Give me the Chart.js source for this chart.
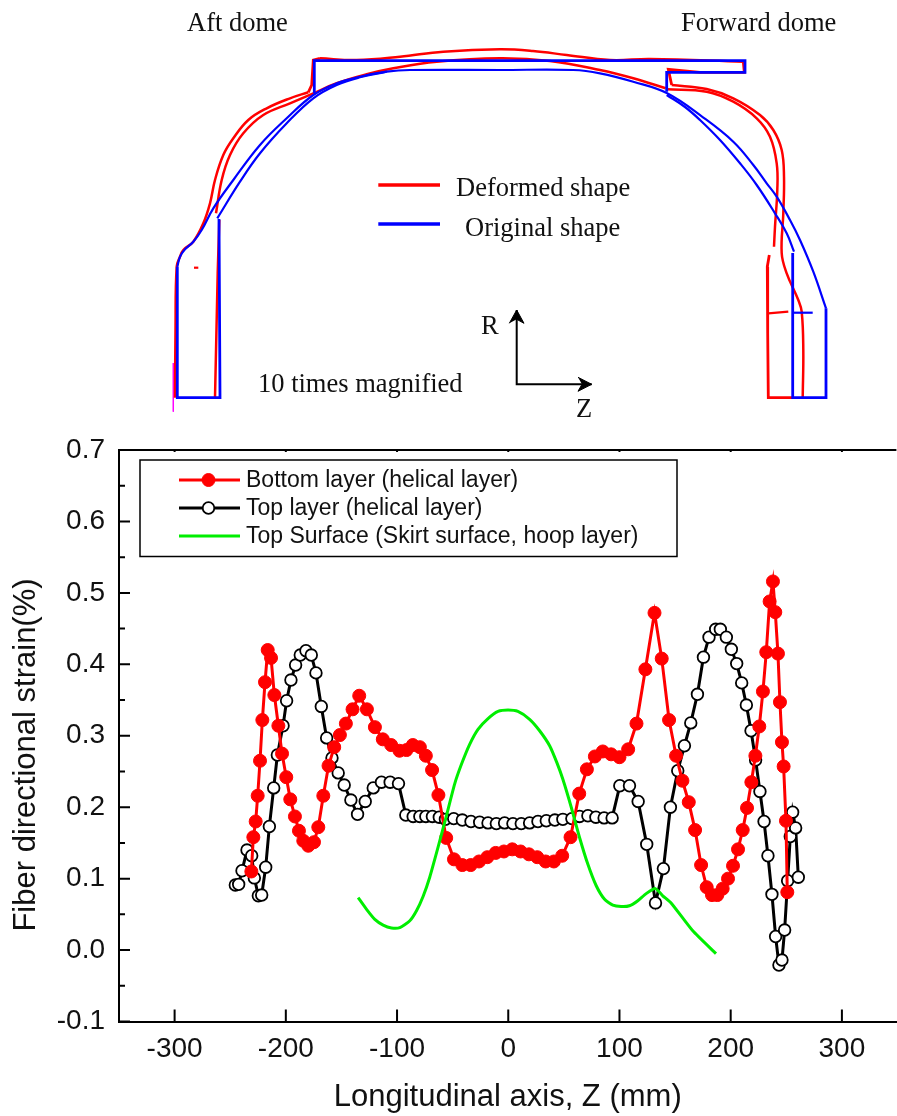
<!DOCTYPE html>
<html>
<head>
<meta charset="utf-8">
<style>
  html, body { margin: 0; padding: 0; background: #fff; overflow: hidden; }
  #page { position: relative; width: 897px; height: 1116px; overflow: hidden; }
  canvas { position: absolute; left: 0; }
  #shape { top: 0; }
  #strain { top: 430px; }
</style>
<script src="https://cdn.jsdelivr.net/npm/chart.js@4"></script>
</head>
<body>
<div id="page">
  <canvas id="shape" width="897" height="430"></canvas>
  <canvas id="strain" width="904" height="686"></canvas>
</div>
<script>
// strain chart data
const bottomZ = [-231, -229.2, -227.1, -225.3, -223.2, -221.1, -218.7, -216.3, -213.3, -210.3, -206.7, -203.4, -199.6, -196, -191.8, -188.2, -184.3, -179.8, -174.7, -170.8, -166.3, -161.6, -156.5, -151.4, -146, -140, -134, -127.1, -119.9, -112.8, -105.3, -97.8, -91.5, -85.8, -79.5, -74.1, -68.5, -62.8, -55.8, -48.8, -41.3, -33.8, -26.3, -18.8, -11.3, -3.9, 3.6, 11.1, 18.6, 26.1, 33.6, 41, 48.5, 56, 63.8, 70.7, 77.9, 85, 92.5, 100, 107.8, 115.3, 123.3, 131.5, 138, 144.6, 150.9, 156.6, 162.3, 168, 173.4, 178.4, 183.2, 188, 192.8, 197.6, 202.1, 206.6, 210.8, 214.7, 218.6, 222.2, 225.7, 229, 232, 235, 238, 240.1, 242.5, 244.3, 246.1, 247.6, 249.7, 250.9];
const bottomStrain = [0.11, 0.158, 0.18, 0.216, 0.265, 0.322, 0.375, 0.42, 0.409, 0.357, 0.314, 0.275, 0.242, 0.211, 0.187, 0.167, 0.153, 0.146, 0.151, 0.172, 0.216, 0.258, 0.284, 0.301, 0.317, 0.337, 0.356, 0.337, 0.312, 0.295, 0.287, 0.279, 0.28, 0.287, 0.284, 0.272, 0.252, 0.217, 0.157, 0.127, 0.119, 0.119, 0.124, 0.13, 0.136, 0.138, 0.141, 0.138, 0.134, 0.13, 0.124, 0.124, 0.132, 0.158, 0.219, 0.253, 0.271, 0.278, 0.274, 0.27, 0.281, 0.317, 0.393, 0.472, 0.408, 0.322, 0.272, 0.237, 0.207, 0.168, 0.119, 0.088, 0.077, 0.077, 0.086, 0.1, 0.118, 0.141, 0.168, 0.199, 0.235, 0.272, 0.313, 0.362, 0.417, 0.488, 0.516, 0.473, 0.415, 0.347, 0.291, 0.257, 0.181, 0.081];

const topZ = [-245.4, -242.4, -239.4, -234.9, -230.7, -228.3, -224.7, -221.7, -218.1, -214.8, -210.9, -207.6, -202.5, -199.3, -195.4, -191.2, -187, -181.9, -177.1, -172.9, -168.1, -163.3, -158.5, -152.9, -147.5, -141.5, -135.5, -128.6, -121.4, -114, -106.2, -98.7, -92.1, -85.5, -79.5, -74.1, -68.2, -62, -56.5, -49.05, -41.3, -33.5, -25.7, -18.2, -10.7, -3.3, 4.2, 11.7, 19.2, 26.7, 34.2, 41.9, 49.1, 57.2, 64.1, 71.6, 78.8, 86.2, 93.4, 100.3, 109, 116.8, 124.5, 132.4, 139.5, 145.8, 152.4, 158.4, 164.1, 170.1, 175.5, 180.5, 186.5, 190.7, 196.1, 200.6, 205.4, 209.9, 214.1, 218.3, 222.4, 226.3, 230, 233.5, 237.1, 240.4, 243.4, 246.1, 248.5, 251.2, 253.6, 255.7, 258.4, 260.8];
const topStrain = [0.091, 0.092, 0.111, 0.14, 0.132, 0.101, 0.076, 0.077, 0.116, 0.173, 0.227, 0.273, 0.314, 0.349, 0.378, 0.399, 0.413, 0.419, 0.413, 0.388, 0.341, 0.297, 0.269, 0.248, 0.231, 0.21, 0.19, 0.208, 0.227, 0.235, 0.235, 0.233, 0.189, 0.187, 0.187, 0.187, 0.187, 0.186, 0.183, 0.184, 0.182, 0.18, 0.179, 0.178, 0.177, 0.178, 0.177, 0.177, 0.178, 0.18, 0.181, 0.182, 0.183, 0.184, 0.187, 0.188, 0.186, 0.185, 0.185, 0.23, 0.23, 0.208, 0.148, 0.066, 0.114, 0.2, 0.251, 0.286, 0.318, 0.358, 0.41, 0.438, 0.449, 0.449, 0.438, 0.421, 0.401, 0.374, 0.343, 0.307, 0.266, 0.222, 0.18, 0.132, 0.078, 0.019, -0.021, -0.014, 0.028, 0.097, 0.159, 0.193, 0.171, 0.102];

const skirtZ = [-135, -127.4, -120, -112.5, -105, -97.5, -88.5, -82.5, -76.6, -70.6, -63.1, -55.6, -48.1, -42.1, -34.7, -27.2, -18.2, -9.2, -0.2, 8.7, 19.2, 28.2, 37.2, 43.8, 49.1, 56.7, 64.1, 71.6, 79.1, 86.6, 94, 101.5, 109, 116.5, 124, 132.3, 138.9, 146.4, 165.9, 186.8];
const skirtStrain = [0.0735, 0.057, 0.043, 0.035, 0.031, 0.0315, 0.041, 0.055, 0.075, 0.102, 0.144, 0.188, 0.233, 0.26, 0.288, 0.309, 0.324, 0.334, 0.336, 0.334, 0.323, 0.307, 0.286, 0.262, 0.239, 0.1996, 0.1576, 0.12, 0.09, 0.071, 0.063, 0.061, 0.062, 0.069, 0.079, 0.086, 0.076, 0.066, 0.027, -0.005];

const xTicks = [-300, -200, -100, 0, 100, 200, 300];
const yTicks = [-0.1, 0, 0.1, 0.2, 0.3, 0.4, 0.5, 0.6, 0.7];
const yMinorTicks = [-0.05, 0.05, 0.15, 0.25, 0.35, 0.45, 0.55, 0.65];
const legendLabels = ['Bottom layer (helical layer)', 'Top layer (helical layer)', 'Top Surface (Skirt surface, hoop layer)'];
const yTitle = 'Fiber directional strain(%)';

// shape diagram outlines, picture units
const blueCurveOuter = [[177.3, 266.7], [180, 256.7], [185, 249.3], [193.3, 241.7], [201.7, 230], [213.3, 208.3], [233.3, 180], [260, 145], [286.7, 118.3], [313.3, 95], [336.7, 83.3], [360, 76.7], [386.7, 71.7], [410, 70], [500, 70], [573.3, 70], [600, 73.3], [633.3, 81.7], [666.7, 93], [703, 117.3], [733.3, 141.7], [753.3, 165], [766.7, 183.3], [776.7, 196.7], [790, 220], [800, 240], [813.3, 271.7], [826, 308.3]];
const blueCurveInner = [[217.3, 218.3], [240, 181.7], [260, 153.3], [286.7, 123.3], [313.3, 98.3], [336.7, 85], [360, 77.3], [386.7, 71.7]];
const blueCurveRight = [[666.7, 95], [685, 107], [700, 120], [720, 140], [740, 163.3], [756.7, 185], [775, 213.3], [786.7, 233.3], [794, 251.7]];
const blueSkirtLeft = [[177.3, 266.7], [177.3, 397.7], [220, 397.7], [219, 219]];
const blueSkirtRight = [[792.7, 253], [792.7, 397.7], [826, 397.7], [826, 308.3]];
const blueTick = [[792.7, 312.7], [812.7, 312.7]];
const blueSkirtTop = [[314.3, 93.3], [314.3, 60.7], [745, 60.7], [745, 72.3], [666.7, 72.3], [666.7, 91.7]];

const redLeftOuter = [[175, 397.7], [175.5, 330], [176.7, 266.7], [180, 256.7], [183.3, 250], [193.3, 241.7], [203.3, 223.3], [210, 203.3], [215, 180], [223.3, 155], [233.3, 138.3], [248.3, 120], [266.7, 108.3], [290, 98.3], [308.3, 92.3]];
const redStep = [[308.3, 92.3], [311.7, 85], [313.3, 60], [320, 58.3]];
const redSkirtTop = [[320, 58.3], [356.7, 60], [400, 56.7], [443.3, 51.7], [500, 49.3], [533, 51], [566.7, 55], [610, 60], [650, 59], [743.3, 61.7]];
const redSkirtEnd = [[743.3, 61.7], [744.3, 72.3], [700, 72.3], [668.3, 69.3], [671.7, 85]];
const redRightOuter = [[671.7, 85], [706.7, 89], [733.3, 98.3], [760, 115], [773.3, 130], [781.7, 150], [784, 176.7], [783.3, 213.3], [781.7, 253.3], [786.7, 273.3], [798.3, 300], [801.7, 311.7], [803.3, 350], [802.7, 397.7]];
const redInner = [[216, 213.3], [221.7, 180], [230, 155], [243.3, 133.3], [263.3, 115], [290, 103.3], [313.3, 93.3], [336.7, 83.3], [366.7, 74.3], [393.3, 68.3], [436.7, 61.7], [500, 58.3], [550, 61], [600, 70], [633.3, 78.3], [665.7, 88.3]];
const redRightInner = [[666.7, 89.3], [706.7, 91.7], [733.3, 101.7], [756.7, 118.3], [770, 136.7], [776.7, 163.3], [777.3, 190], [775, 226.7], [774, 246.7]];
const redRightSkirt = [[769.3, 255], [767.3, 266.7], [767.7, 333.3], [768.3, 397.7], [792.7, 397.7]];
const redLeftInner = [[215, 397.7], [217.7, 273], [219.3, 220]];
const redTickLeft = [[194, 267.7], [198.3, 267.7]];
const redTickRight = [[768.3, 313.3], [788.3, 311.7]];
const magentaLine = [[173.3, 363], [173.3, 411.7]];

const keyRed = [[378.3, 185], [440, 185]];
const keyBlue = [[378.3, 224], [440, 224]];
const arrowAxes = [[516.7, 310], [516.7, 384.3], [591.7, 384.3]];
const arrowHeadR = [[509.3, 323.3], [516.7, 310], [524, 323.3], [516.7, 319.3]];
const arrowHeadZ = [[578, 377.3], [591.7, 384.3], [578, 391.3], [582, 384.3]];

const shapeLabels = [
  ['Aft dome', 187, 31], ['Forward dome', 681, 31],
  ['Deformed shape', 456, 196], ['Original shape', 465, 236],
  ['R', 481, 334], ['10 times magnified', 258, 392], ['Z', 576, 417],
];

const RED = '#ff0000';
const BLUE = '#0000ff';
const GREEN = '#00ee00';

// [[x, y], ...] を Chart.js の点に変換
function toPoints(pairs) {
  return pairs.map(p => ({ x: p[0], y: p[1] }));
}

function zipPoints(xs, ys) {
  return xs.map((x, i) => ({ x, y: ys[i] }));
}

function outline(pairs, color, width, tension) {
  return {
    data: toPoints(pairs),
    showLine: true,
    borderColor: color,
    borderWidth: width,
    pointRadius: 0,
    tension: tension || 0,
    fill: false,
  };
}

function arrowHead(pairs) {
  return {
    data: toPoints(pairs),
    showLine: true,
    borderColor: '#000',
    backgroundColor: '#000',
    borderWidth: 1,
    pointRadius: 0,
    fill: 'shape',
  };
}

// 図の文字を描画
const shapeTextPlugin = {
  id: 'shapeText',
  afterDraw(chart) {
    const ctx = chart.ctx;
    const xs = chart.scales.x;
    const ys = chart.scales.y;
    ctx.save();
    ctx.fillStyle = '#111';
    ctx.font = '26.5px "Liberation Serif"';
    ctx.textBaseline = 'alphabetic';
    shapeLabels.forEach(l => {
      ctx.fillText(l[0], xs.getPixelForValue(l[1]), ys.getPixelForValue(l[2]));
    });
    ctx.restore();
  },
};

new Chart(document.getElementById('shape'), {
  type: 'scatter',
  data: {
    datasets: [
      outline(keyBlue, BLUE, 3.5),
      outline(keyRed, RED, 3.5),
      outline(blueSkirtTop, BLUE, 2.8),
      outline(blueSkirtLeft, BLUE, 2.8),
      outline(blueSkirtRight, BLUE, 2.8),
      outline(blueTick, BLUE, 2.2),
      outline(blueCurveOuter, BLUE, 2.2, 0.4),
      outline(blueCurveInner, BLUE, 2.2, 0.4),
      outline(blueCurveRight, BLUE, 2.2, 0.4),
      outline(redLeftOuter, RED, 2.5, 0.4),
      outline(redStep, RED, 2.8),
      outline(redSkirtTop, RED, 2.5, 0.4),
      outline(redSkirtEnd, RED, 2.8),
      outline(redRightOuter, RED, 2.5, 0.4),
      outline(redInner, RED, 2.5, 0.4),
      outline(redRightInner, RED, 2.5, 0.4),
      outline(redRightSkirt, RED, 2.8),
      outline(redLeftInner, RED, 2.5),
      outline(redTickLeft, RED, 2.2),
      outline(redTickRight, RED, 2.2),
      outline(magentaLine, '#ff00ff', 1),
      outline(arrowAxes, '#000', 2),
      arrowHead(arrowHeadR),
      arrowHead(arrowHeadZ),
    ],
  },
  options: {
    responsive: false,
    animation: false,
    layout: { padding: 0 },
    plugins: { legend: { display: false }, tooltip: { enabled: false } },
    scales: {
      x: { type: 'linear', display: false, min: 0, max: 897 },
      y: { type: 'linear', display: false, min: 0, max: 430, reverse: true },
    },
  },
  plugins: [shapeTextPlugin],
});

// 内向きの目盛りと上枠、縦軸タイトル、凡例を描画
const frameAndLegendPlugin = {
  id: 'frameAndLegend',
  afterDraw(chart) {
    const ctx = chart.ctx;
    const area = chart.chartArea;
    const xs = chart.scales.x;
    const ys = chart.scales.y;
    ctx.save();
    ctx.strokeStyle = '#000';
    ctx.lineWidth = 2;
    ctx.beginPath();
    ctx.moveTo(area.left, area.top);
    ctx.lineTo(area.right, area.top);
    xTicks.forEach(v => {
      const x = xs.getPixelForValue(v);
      ctx.moveTo(x, area.bottom);
      ctx.lineTo(x, area.bottom - 12);
      ctx.moveTo(x, area.top);
      ctx.lineTo(x, area.top + 2);
    });
    yTicks.forEach(v => {
      const y = ys.getPixelForValue(v);
      ctx.moveTo(area.left, y);
      ctx.lineTo(area.left + 11, y);
    });
    yMinorTicks.forEach(v => {
      const y = ys.getPixelForValue(v);
      ctx.moveTo(area.left, y);
      ctx.lineTo(area.left + 6, y);
    });
    ctx.stroke();

    // 縦軸タイトル（軸の中央より下にある）
    ctx.save();
    ctx.translate(26, 325);
    ctx.rotate(-Math.PI / 2);
    ctx.fillStyle = '#111';
    ctx.font = '31px "Liberation Sans"';
    ctx.textAlign = 'center';
    ctx.textBaseline = 'middle';
    ctx.fillText(yTitle, 0, 0);
    ctx.restore();

    // 凡例
    ctx.strokeStyle = '#000';
    ctx.lineWidth = 1.5;
    ctx.strokeRect(140, 30, 537, 96.5);
    chart.data.datasets.forEach((ds, i) => {
      const y = 50 + i * 28;
      ctx.strokeStyle = ds.borderColor;
      ctx.lineWidth = ds.borderWidth;
      ctx.beginPath();
      ctx.moveTo(179, y);
      ctx.lineTo(240, y);
      ctx.stroke();
      if (ds.pointRadius > 0) {
        ctx.beginPath();
        ctx.arc(208.5, y, ds.pointRadius, 0, Math.PI * 2);
        ctx.fillStyle = ds.pointBackgroundColor;
        ctx.fill();
        ctx.strokeStyle = ds.pointBorderColor;
        ctx.lineWidth = ds.pointBorderWidth;
        ctx.stroke();
      }
      ctx.fillStyle = '#111';
      ctx.font = '23px "Liberation Sans"';
      ctx.textBaseline = 'middle';
      ctx.fillText(legendLabels[i], 246, y + 1);
    });
    ctx.restore();
  },
};

new Chart(document.getElementById('strain'), {
  type: 'scatter',
  data: {
    datasets: [
      {
        label: legendLabels[0],
        data: zipPoints(bottomZ, bottomStrain),
        showLine: true,
        order: 1,
        borderColor: RED,
        borderWidth: 3,
        pointRadius: 6.5,
        pointBackgroundColor: RED,
        pointBorderColor: RED,
        pointBorderWidth: 1,
      },
      {
        label: legendLabels[1],
        data: zipPoints(topZ, topStrain),
        showLine: true,
        order: 2,
        borderColor: '#000',
        borderWidth: 3,
        pointRadius: 5.8,
        pointBackgroundColor: '#fff',
        pointBorderColor: '#000',
        pointBorderWidth: 1.8,
      },
      {
        label: legendLabels[2],
        data: zipPoints(skirtZ, skirtStrain),
        showLine: true,
        order: 0,
        borderColor: GREEN,
        borderWidth: 3,
        pointRadius: 0,
        tension: 0.2,
      },
    ],
  },
  options: {
    responsive: false,
    animation: false,
    layout: { padding: { top: 20, right: 0, bottom: 0, left: 0 } },
    plugins: { legend: { display: false }, tooltip: { enabled: false } },
    scales: {
      x: {
        type: 'linear',
        min: -350,
        max: 349,
        afterBuildTicks: scale => { scale.ticks = xTicks.map(v => ({ value: v })); },
        afterFit: scale => {
          scale.height = 94.5;
          scale.paddingLeft = 0;
          scale.paddingRight = 0;
        },
        grid: { display: false, drawTicks: false },
        border: { display: true, color: '#000', width: 2 },
        ticks: { color: '#111', font: { family: 'Liberation Sans', size: 28 }, padding: 11, maxRotation: 0, autoSkip: false },
        title: {
          display: true,
          text: 'Longitudinal axis, Z (mm)',
          color: '#111',
          font: { family: 'Liberation Sans', size: 31 },
          padding: { top: 0, bottom: 0 },
        },
      },
      y: {
        type: 'linear',
        min: -0.1,
        max: 0.7,
        afterBuildTicks: scale => { scale.ticks = yTicks.map(v => ({ value: v })); },
        afterFit: scale => {
          scale.width = 119;
          scale.paddingTop = 0;
          scale.paddingBottom = 0;
        },
        grid: { display: false, drawTicks: false },
        border: { display: true, color: '#000', width: 2 },
        ticks: {
          color: '#111',
          font: { family: 'Liberation Sans', size: 28 },
          padding: 14,
          autoSkip: false,
          callback: v => v.toFixed(1),
        },
      },
    },
  },
  plugins: [frameAndLegendPlugin],
});
</script>
</body>
</html>
